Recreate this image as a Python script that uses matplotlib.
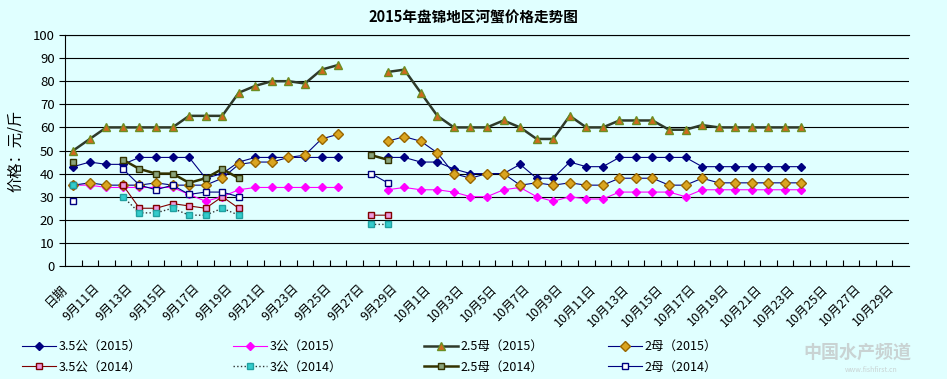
import matplotlib.pyplot as plt
import matplotlib.transforms as mtransforms
import numpy as np

plt.rcParams['font.family'] = ['Noto Sans CJK SC', 'DejaVu Sans']

n = None

# category axis: 51 daily categories, every other one labelled
n_cat = 51
date_labels = ["日期", "9月11日", "9月13日", "9月15日", "9月17日", "9月19日", "9月21日",
               "9月23日", "9月25日", "9月27日", "9月29日", "10月1日", "10月3日", "10月5日",
               "10月7日", "10月9日", "10月11日", "10月13日", "10月15日", "10月17日",
               "10月19日", "10月21日", "10月23日", "10月25日", "10月27日", "10月29日"]

# 2015 series
g35_2015 = [43, 45, 44, 44, 47, 47, 47, 47, 38, 40, 45, 47, 47, 47, 47, 47, 47, n, n,
            47, 47, 45, 45, 42, 40, 40, 40, 44, 38, 38, 45, 43, 43, 47, 47, 47, 47, 47,
            43, 43, 43, 43, 43, 43, 43, n, n, n, n, n, n]
g3_2015 = [35, 35, 34, 34, 34, 34, 34, 31, 28, 30, 33, 34, 34, 34, 34, 34, 34, n, n,
           33, 34, 33, 33, 32, 30, 30, 33, 34, 30, 28, 30, 29, 29, 32, 32, 32, 32, 30,
           33, 33, 33, 33, 33, 33, 33, n, n, n, n, n, n]
m25_2015 = [50, 55, 60, 60, 60, 60, 60, 65, 65, 65, 75, 78, 80, 80, 79, 85, 87, n, n,
            84, 85, 75, 65, 60, 60, 60, 63, 60, 55, 55, 65, 60, 60, 63, 63, 63, 59, 59,
            61, 60, 60, 60, 60, 60, 60, n, n, n, n, n, n]
m2_2015 = [35, 36, 35, 35, 35, 36, 35, 35, 35, 38, 44, 45, 45, 47, 48, 55, 57, n, n,
           54, 56, 54, 49, 40, 38, 40, 40, 35, 36, 35, 36, 35, 35, 38, 38, 38, 35, 35,
           38, 36, 36, 36, 36, 36, 36, n, n, n, n, n, n]

# 2014 series
g35_2014 = [35, n, n, 35, 25, 25, 27, 26, 25, 30, 25, n, n, n, n, n, n, n, 22, 22] + [n] * 31
g3_2014 = [35, n, n, 30, 23, 23, 25, 22, 22, 25, 22, n, n, n, n, n, n, n, 18, 18] + [n] * 31
m25_2014 = [45, n, n, 46, 42, 40, 40, 36, 38, 42, 38, n, n, n, n, n, n, n, 48, 46] + [n] * 31
m2_2014 = [28, n, n, 42, 35, 33, 35, 31, 32, 32, 30, n, n, n, n, n, n, n, 40, 36] + [n] * 31

names_2015 = ["3.5公（2015）", "3公（2015）", "2.5母（2015）", "2母（2015）"]
names_2014 = ["3.5公（2014）", "3公（2014）", "2.5母（2014）", "2母（2014）"]

bg = '#e0ffff'
fig = plt.figure(figsize=(9.47, 3.79), dpi=100, facecolor=bg)
ax = fig.add_axes([65 / 947, 1 - 266 / 379, 844 / 947, 231 / 379])
ax.set_facecolor(bg)

x = np.arange(n_cat)


def arr(v):
    return np.array([np.nan if a is None else a for a in v], dtype=float)


h35_15, = ax.plot(x, arr(g35_2015), color='#000080', lw=0.8, marker='D', ms=4.5,
                  mfc='#000080', mec='#000080')
h3_15, = ax.plot(x, arr(g3_2015), color='#ff00ff', lw=0.8, marker='D', ms=4.5,
                 mfc='#ff00ff', mec='#ff00ff')
h25_15, = ax.plot(x, arr(m25_2015), color='#2f3a2a', lw=1.8, marker='^', ms=6,
                  mfc='#d2691e', mec='#6b8e23')
h2_15, = ax.plot(x, arr(m2_2015), color='#000080', lw=0.8, marker='D', ms=4.8,
                 mfc='#daa520', mec='#996600')
h35_14, = ax.plot(x, arr(g35_2014), color='#800000', lw=0.8, marker='s', ms=5,
                  mfc='#ee99dd', mec='#800000')
h3_14, = ax.plot(x, arr(g3_2014), color='#303030', lw=1.0, ls=':', marker='s', ms=5,
                 mfc='#33cccc', mec='#20a0a0')
h25_14, = ax.plot(x, arr(m25_2014), color='#333300', lw=1.8, marker='s', ms=5,
                  mfc='#8aa37a', mec='#333300')
h2_14, = ax.plot(x, arr(m2_2014), color='#000080', lw=0.8, marker='s', ms=5,
                 mfc='white', mec='#000080')

ax.set_xlim(-0.5, n_cat - 0.5)
ax.set_ylim(0, 100)
ax.set_yticks(range(0, 101, 10))
ax.yaxis.grid(True, color='black', lw=0.8)
ax.set_axisbelow(True)
ax.tick_params(axis='y', labelsize=9.5, length=4, direction='out')

ax.set_xticks(np.arange(0.5, n_cat - 0.5))
ax.set_xticklabels([])
ax.tick_params(axis='x', which='major', direction='in', length=4)
ax.set_xticks(np.arange(0, n_cat, 2), date_labels, minor=True)
ax.tick_params(axis='x', which='minor', length=0, pad=15, labelsize=9)
for lab in ax.get_xticklabels(minor=True):
    lab.set_rotation(45)
    lab.set_ha('right')
    lab.set_va('center')
    lab.set_rotation_mode('anchor')
    lab.set_transform(lab.get_transform() +
                      mtransforms.ScaledTranslation(-6 / 72, 0, fig.dpi_scale_trans))

for s in ['top', 'left', 'bottom']:
    ax.spines[s].set_color('black')
    ax.spines[s].set_linewidth(0.8)
ax.spines['right'].set_visible(False)

ax.set_ylabel('价格：元/斤', fontsize=11, labelpad=6)

fig.text(0.5, 0.955, '2015年盘锦地区河蟹价格走势图', ha='center', va='center',
         fontsize=10.5, fontweight='bold')

# legend: one block per column, 2015 on top and 2014 below
cols = [(h35_15, h35_14), (h3_15, h3_14), (h25_15, h25_14), (h2_15, h2_14)]
col_x = [22, 233, 424, 608]
for i, (ha_, hb_) in enumerate(cols):
    fig.legend([ha_, hb_], [names_2015[i], names_2014[i]], loc='upper left',
               bbox_to_anchor=(col_x[i] / 947, 1 - 340 / 379), frameon=False,
               fontsize=9, handlelength=2.7, handletextpad=0.2, labelspacing=0.6,
               borderpad=0, borderaxespad=0)

fig.text(0.905, 0.07, '中国水产频道', ha='center', va='center', fontsize=13,
         fontweight='bold', color='#c9d3d3')
fig.text(0.92, 0.025, 'www.fishfirst.cn', ha='center', va='center', fontsize=5,
         color='#c9d3d3')

fig.savefig('out.png', dpi=100, facecolor=bg)
